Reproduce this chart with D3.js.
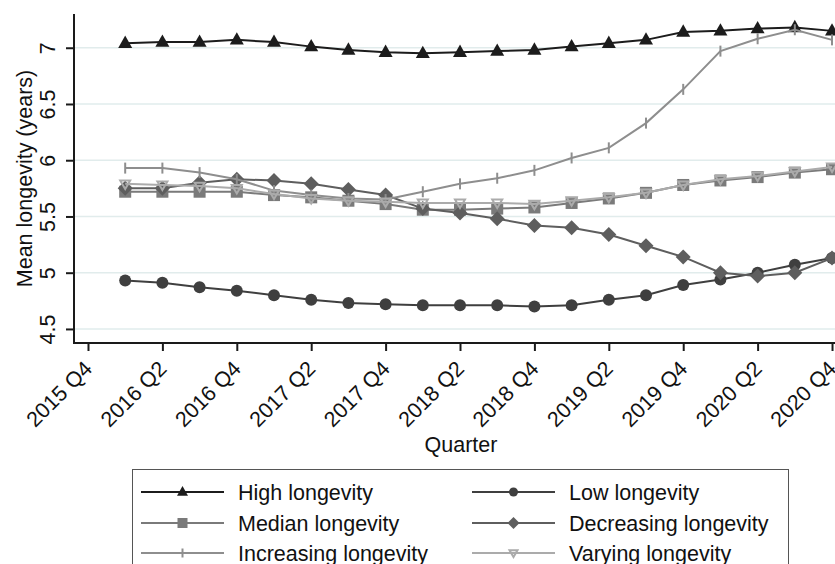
<!DOCTYPE html>
<html>
<head>
<meta charset="utf-8">
<script src="https://cdn.jsdelivr.net/npm/d3@7"></script>
<style>
  html, body { margin: 0; padding: 0; background: #fff; }
  svg { display: block; font-family: "Liberation Sans", Arial, Helvetica, sans-serif; }
</style>
</head>
<body>
<svg id="chart" width="835" height="564"></svg>
<script>
// ---- data ----
const quarters = ["2016 Q1","2016 Q2","2016 Q3","2016 Q4","2017 Q1","2017 Q2","2017 Q3","2017 Q4",
  "2018 Q1","2018 Q2","2018 Q3","2018 Q4","2019 Q1","2019 Q2","2019 Q3","2019 Q4",
  "2020 Q1","2020 Q2","2020 Q3","2020 Q4"];
const tickLabels = ["2015 Q4","2016 Q2","2016 Q4","2017 Q2","2017 Q4","2018 Q2","2018 Q4",
  "2019 Q2","2019 Q4","2020 Q2","2020 Q4"];
const yTicks = [4.5, 5, 5.5, 6, 6.5, 7];

const highLongevity = [7.04,7.05,7.05,7.07,7.05,7.01,6.98,6.96,6.95,6.96,6.97,6.98,7.01,7.04,7.07,7.14,7.15,7.17,7.18,7.15];
const lowLongevity = [4.93,4.91,4.87,4.84,4.80,4.76,4.73,4.72,4.71,4.71,4.71,4.70,4.71,4.76,4.80,4.89,4.94,5.00,5.07,5.13];
const medianLongevity = [5.72,5.72,5.72,5.72,5.69,5.67,5.64,5.61,5.56,5.56,5.57,5.58,5.62,5.66,5.71,5.78,5.82,5.85,5.89,5.92];
const decreasingLongevity = [5.75,5.75,5.80,5.83,5.82,5.79,5.74,5.69,5.57,5.53,5.48,5.42,5.40,5.34,5.24,5.14,5.00,4.97,5.00,5.13];
const increasingLongevity = [5.93,5.93,5.89,5.83,5.73,5.69,5.66,5.65,5.72,5.79,5.84,5.91,6.02,6.11,6.33,6.63,6.97,7.08,7.16,7.07];
const varyingLongevity = [5.79,5.78,5.77,5.75,5.70,5.66,5.64,5.63,5.62,5.62,5.62,5.61,5.64,5.67,5.71,5.78,5.83,5.86,5.90,5.94];

const seriesNames = ["High longevity","Low longevity","Median longevity","Decreasing longevity","Increasing longevity","Varying longevity"];

// ---- setup ----
const svg = d3.select("#chart");
const pLeft = 74, pRight = 835, pTop = 14, pBottom = 343;

// quarter index: 0 = 2015 Q4
const x = d3.scaleLinear().domain([-0.376, 20.08]).range([pLeft, pRight]);
const y = d3.scaleLinear().domain([4.375, 7.30]).range([pBottom, pTop]);

const textColor = "#111";
const fontSize = 21.5;
const ff = "'Liberation Sans', Arial, sans-serif";

// grid
svg.append("g").selectAll("line").data(yTicks).join("line")
  .attr("x1", pLeft).attr("x2", pRight)
  .attr("y1", d => y(d)).attr("y2", d => y(d))
  .attr("stroke", "#e1ecec").attr("stroke-width", 1.6);

// y axis
const yAxis = d3.axisLeft(y).tickValues(yTicks).tickSize(8).tickFormat(d3.format("~g"));
const gy = svg.append("g").attr("transform", `translate(${pLeft},0)`).call(yAxis);
gy.select(".domain").remove();
gy.selectAll(".tick line").attr("stroke", "#1a1a1a").attr("stroke-width", 2);
gy.selectAll(".tick text")
  .attr("x", null).attr("dy", null)
  .attr("transform", "translate(-19,0) rotate(-90)")
  .attr("text-anchor", "middle")
  .attr("font-size", fontSize).attr("fill", textColor)
  .attr("font-family", ff);
svg.append("line").attr("x1", pLeft).attr("x2", pLeft).attr("y1", pTop).attr("y2", pBottom + 1)
  .attr("stroke", "#1a1a1a").attr("stroke-width", 2);

// x axis
const xTickVals = tickLabels.map((d, i) => i * 2);
const xAxis = d3.axisBottom(x).tickValues(xTickVals).tickSize(8).tickFormat((d, i) => tickLabels[i]);
const gx = svg.append("g").attr("transform", `translate(0,${pBottom})`).call(xAxis);
gx.select(".domain").remove();
gx.selectAll(".tick line").attr("stroke", "#1a1a1a").attr("stroke-width", 2);
gx.selectAll(".tick text")
  .attr("y", null).attr("dy", null)
  .attr("transform", "translate(5,27) rotate(-45)")
  .attr("text-anchor", "end")
  .attr("font-size", fontSize).attr("fill", textColor)
  .attr("font-family", ff);
svg.append("line").attr("x1", pLeft - 1).attr("x2", pRight).attr("y1", pBottom).attr("y2", pBottom)
  .attr("stroke", "#1a1a1a").attr("stroke-width", 2);

// titles
svg.append("text").attr("x", 461).attr("y", 452).attr("text-anchor", "middle")
  .attr("font-size", fontSize).attr("fill", textColor).text("Quarter");
svg.append("text").attr("transform", `translate(32,${(pTop + pBottom) / 2}) rotate(-90)`)
  .attr("text-anchor", "middle").attr("font-size", fontSize).attr("fill", textColor)
  .text("Mean longevity (years)");

// ---- marker drawing ----
function drawMarker(g, type, cx, cy, color, s) {
  if (type === "triangle") {
    const h = s * 0.88;
    g.append("path").attr("d", `M${cx},${cy - h * 0.62}L${cx + s / 2},${cy + h * 0.38}L${cx - s / 2},${cy + h * 0.38}Z`)
      .attr("fill", color);
  } else if (type === "circle") {
    g.append("circle").attr("cx", cx).attr("cy", cy).attr("r", s / 2).attr("fill", color);
  } else if (type === "square") {
    g.append("rect").attr("x", cx - s / 2).attr("y", cy - s / 2).attr("width", s).attr("height", s).attr("fill", color);
  } else if (type === "diamond") {
    const r = s / 2;
    g.append("path").attr("d", `M${cx},${cy - r}L${cx + r},${cy}L${cx},${cy + r}L${cx - r},${cy}Z`).attr("fill", color);
  } else if (type === "plus") {
    g.append("line").attr("x1", cx).attr("x2", cx).attr("y1", cy - s / 2).attr("y2", cy + s / 2)
      .attr("stroke", color).attr("stroke-width", 2);
  } else if (type === "tridown") {
    const hw = s / 2, h = s * 0.85;
    g.append("path").attr("d", `M${cx - hw},${cy - h * 0.4}L${cx + hw},${cy - h * 0.4}L${cx},${cy + h * 0.6}Z`)
      .attr("fill", "none").attr("stroke", color).attr("stroke-width", 2).attr("stroke-linejoin", "miter");
  }
}

const series = [
  { name: seriesNames[0], values: highLongevity, color: "#1c1c1c", marker: "triangle", size: 14, lsize: 11 },
  { name: seriesNames[1], values: lowLongevity, color: "#3f3f3f", marker: "circle", size: 12, lsize: 9 },
  { name: seriesNames[2], values: medianLongevity, color: "#7a7a7a", marker: "square", size: 12, lsize: 10 },
  { name: seriesNames[3], values: decreasingLongevity, color: "#5e5e5e", marker: "diamond", size: 15, lsize: 12 },
  { name: seriesNames[4], values: increasingLongevity, color: "#8e8e8e", marker: "plus", size: 11, lsize: 9 },
  { name: seriesNames[5], values: varyingLongevity, color: "#ababab", marker: "tridown", size: 10, lsize: 8 }
];

const line = d3.line().x((d, i) => x(i + 1)).y(d => y(d));
const plot = svg.append("g");
series.forEach(s => {
  const g = plot.append("g");
  g.append("path").datum(s.values).attr("d", line)
    .attr("fill", "none").attr("stroke", s.color).attr("stroke-width", 2);
  s.values.forEach((v, i) => drawMarker(g, s.marker, x(i + 1), y(v), s.color, s.size));
});

// ---- legend ----
const lg = svg.append("g");
lg.append("rect").attr("x", 132.5).attr("y", 469.5).attr("width", 656).attr("height", 110)
  .attr("fill", "#fff").attr("stroke", "#555").attr("stroke-width", 1);
const rowY = [492, 523, 553];
const colLine = [[141, 224], [472, 555]];
const colText = [238, 569];
series.forEach((s, i) => {
  const col = i % 2, row = Math.floor(i / 2);
  const cy = rowY[row];
  const [x1, x2] = colLine[col];
  lg.append("line").attr("x1", x1).attr("x2", x2).attr("y1", cy).attr("y2", cy)
    .attr("stroke", s.color).attr("stroke-width", 2);
  drawMarker(lg, s.marker, (x1 + x2) / 2, cy, s.color, s.lsize);
  lg.append("text").attr("x", colText[col]).attr("y", cy + 8)
    .attr("font-size", fontSize).attr("fill", textColor).text(s.name);
});
</script>
</body>
</html>
